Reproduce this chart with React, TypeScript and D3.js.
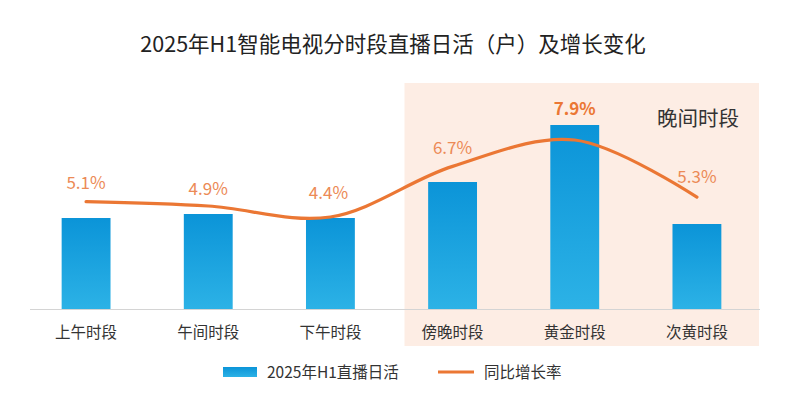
import React, { useEffect, useRef } from 'react';
import * as d3 from 'd3';

const categories = ['上午时段', '午间时段', '下午时段', '傍晚时段', '黄金时段', '次黄时段'];
// daily active households (relative)
const dailyActive = [910, 950, 910, 1270, 1840, 850];
const growthRate = [5.1, 4.9, 4.4, 6.7, 7.9, 5.3];
const eveningSlots = ['傍晚时段', '黄金时段', '次黄时段'];
const highlightSlot = '黄金时段';

const title = '2025年H1智能电视分时段直播日活（户）及增长变化';
const barLegend = '2025年H1直播日活';
const lineLegend = '同比增长率';
const eveningLabel = '晚间时段';

const FONT = '"Noto Sans CJK SC", "Noto Sans", sans-serif';

const App = () => {
  const chartRef = useRef<HTMLDivElement>(null);

  useEffect(() => {
    drawChart();
  }, []);

  const drawChart = () => {
    const width = 800, height = 396;
    d3.select(chartRef.current).select('svg').remove();

    const svg = d3.select(chartRef.current)
      .append('svg')
      .attr('width', width)
      .attr('height', height)
      .style('display', 'block')
      .style('font-family', FONT);

    svg.append('rect')
      .attr('x', 0.5).attr('y', 0.5)
      .attr('width', width - 1).attr('height', height - 1)
      .attr('fill', '#fff')
      .attr('stroke', '#e2e2e2');

    const defs = svg.append('defs');
    const grad = defs.append('linearGradient')
      .attr('id', 'barGrad')
      .attr('x1', 0).attr('y1', 0).attr('x2', 0).attr('y2', 1);
    grad.append('stop').attr('offset', '0%').attr('stop-color', '#0b94d8');
    grad.append('stop').attr('offset', '100%').attr('stop-color', '#2cb2e6');

    const x = d3.scaleBand()
      .domain(categories)
      .range([25, 758])
      .paddingInner(0.6)
      .paddingOuter(0.3);

    const baseline = 309;
    const yBar = d3.scaleLinear().domain([0, 1840]).range([baseline, 125]);
    const yLine = d3.scaleLinear().domain([0, 10]).range([313.8, 93.8]);

    const cx = (c) => x(c) + x.bandwidth() / 2;

    // 晚间时段 background
    const first = eveningSlots[0], last = eveningSlots[eveningSlots.length - 1];
    const step = x.step();
    const bgX0 = cx(first) - step / 2 + 13;
    const bgX1 = cx(last) + step / 2 + 1;
    svg.append('rect')
      .attr('x', bgX0)
      .attr('y', 83)
      .attr('width', bgX1 - bgX0)
      .attr('height', 263)
      .attr('fill', '#fdede4');

    svg.append('text')
      .attr('x', 393)
      .attr('y', 52)
      .attr('text-anchor', 'middle')
      .style('font-size', '21.5px')
      .attr('fill', '#222')
      .text(title);

    svg.append('text')
      .attr('x', bgX1 - 20)
      .attr('y', 126)
      .attr('text-anchor', 'end')
      .style('font-size', '20.5px')
      .attr('fill', '#333')
      .text(eveningLabel);

    // bars
    svg.selectAll('.bar')
      .data(categories)
      .enter()
      .append('rect')
      .attr('class', 'bar')
      .attr('x', d => x(d))
      .attr('y', (d, i) => yBar(dailyActive[i]))
      .attr('width', x.bandwidth())
      .attr('height', (d, i) => baseline - yBar(dailyActive[i]))
      .attr('fill', 'url(#barGrad)');

    // baseline
    svg.append('line')
      .attr('x1', 30).attr('x2', 760)
      .attr('y1', baseline + 0.5).attr('y2', baseline + 0.5)
      .style('stroke', '#d4d4d4')
      .style('stroke-width', 1.2);

    // category labels
    svg.selectAll('.cat')
      .data(categories)
      .enter()
      .append('text')
      .attr('class', 'cat')
      .attr('x', d => cx(d))
      .attr('y', 337.5)
      .attr('text-anchor', 'middle')
      .style('font-size', '15.5px')
      .attr('fill', '#333')
      .text(d => d);

    // growth line
    const line = d3.line()
      .x(d => cx(d[0]))
      .y(d => yLine(d[1]))
      .curve(d3.curveCatmullRom.alpha(0.5));

    svg.append('path')
      .attr('d', line(categories.map((c, i) => [c, growthRate[i]])))
      .style('fill', 'none')
      .style('stroke', '#eb7734')
      .style('stroke-width', 3.2)
      .style('stroke-linecap', 'round');

    // rate labels
    const labelY = [189, 195, 199, 154, 115, 183];
    categories.forEach((c, i) => {
      const bold = c === highlightSlot;
      svg.append('text')
        .attr('x', cx(c) - (i === 2 ? 2 : 0))
        .attr('y', labelY[i])
        .attr('text-anchor', 'middle')
        .style('font-size', '17px')
        .style('font-weight', bold ? 'bold' : 'normal')
        .attr('fill', bold ? '#eb7734' : '#ec8a56')
        .text(growthRate[i].toFixed(1) + '%');
    });

    // legend
    const lg = svg.append('g');
    lg.append('rect')
      .attr('x', 223).attr('y', 367)
      .attr('width', 34).attr('height', 10)
      .attr('fill', 'url(#barGrad)');
    lg.append('text')
      .attr('x', 267).attr('y', 377.5)
      .style('font-size', '15.5px')
      .attr('fill', '#333')
      .text(barLegend);
    lg.append('line')
      .attr('x1', 438).attr('x2', 474)
      .attr('y1', 372).attr('y2', 372)
      .style('stroke', '#eb7734')
      .style('stroke-width', 3);
    lg.append('text')
      .attr('x', 484).attr('y', 377.5)
      .style('font-size', '15.5px')
      .attr('fill', '#333')
      .text(lineLegend);
  };

  return (
    <div ref={chartRef} style={{ margin: -8 }}></div>
  );
};

export default App;
